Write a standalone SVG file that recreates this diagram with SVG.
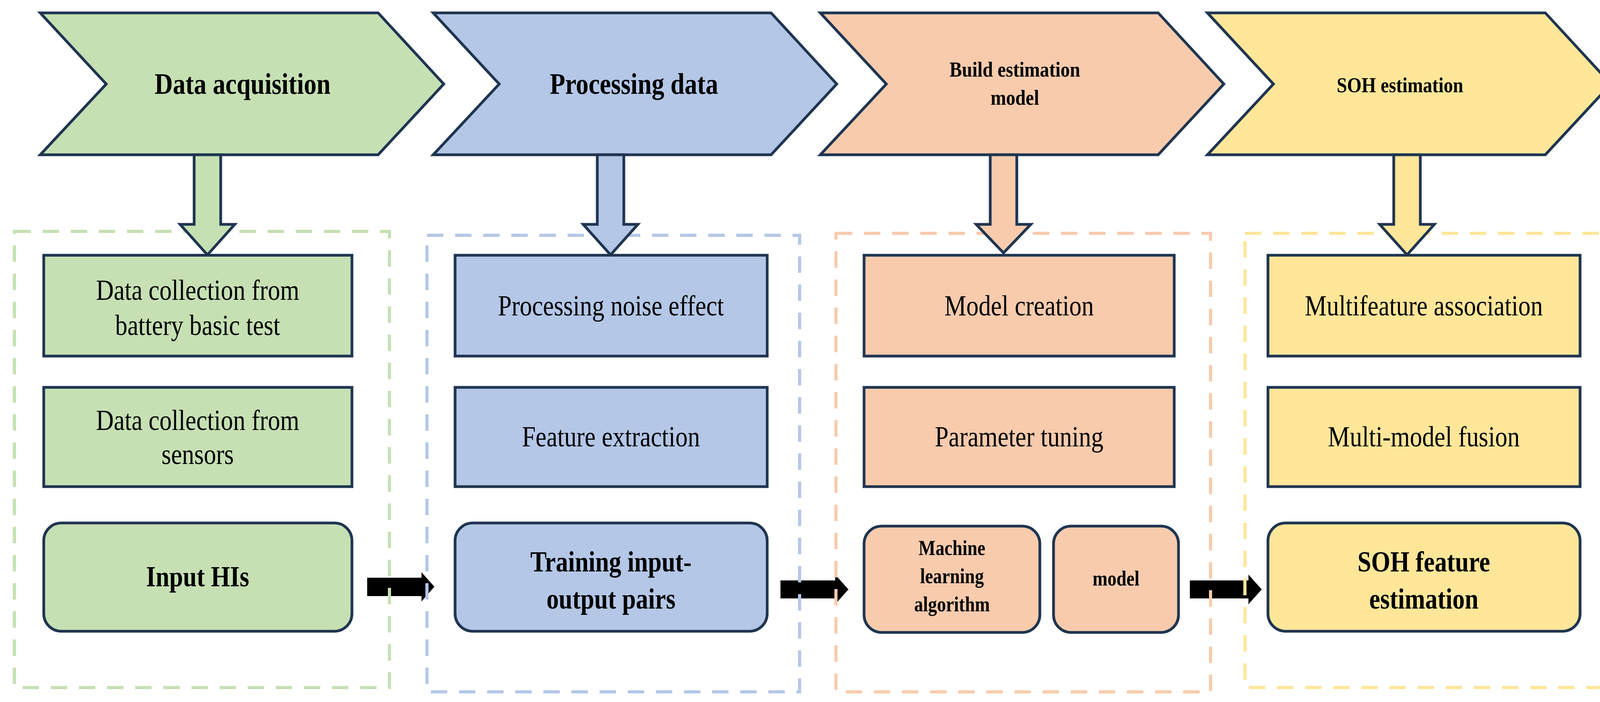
<svg xmlns="http://www.w3.org/2000/svg" width="4179" height="1796" viewBox="0 0 4179 1796">
<style>
.sh{stroke:#1f3550;stroke-width:7}
.g{fill:#c6e0b4}.b{fill:#b4c7e7}.o{fill:#f8cbad}.y{fill:#ffe699}
.d{fill:none;stroke-width:8;stroke-dasharray:42 30}
text{font-family:"Liberation Serif","Times New Roman",serif;fill:#000;text-anchor:middle}
.n{font-size:74px}.hb{font-size:76px;font-weight:bold}.sb{font-size:56px;font-weight:bold}.rb{font-size:74px;font-weight:bold}.mb{font-size:54px;font-weight:bold}
</style>
<g id="connectors">
<path d="M940 1478H1079V1464L1112 1501L1079 1539V1525H940Z" fill="#000"/>
<path d="M1998 1485H2138V1470L2172 1508L2138 1546V1531H1998Z" fill="#000"/>
<path d="M3046 1485H3196V1470L3230 1508L3196 1546V1531H3046Z" fill="#000"/>
</g>
<g id="containers">
<rect x="37" y="592" width="960" height="1167" class="d" stroke="#c6e0b4"/>
<rect x="1093" y="602" width="954" height="1168" class="d" stroke="#b4c7e7"/>
<rect x="2140" y="597" width="959" height="1173" class="d" stroke="#f8cbad"/>
<rect x="3187" y="597" width="957" height="1162" class="d" stroke="#ffe699"/>
</g>
<g id="stage1">
<path class="sh g" d="M103 33H968L1136 215L968 396H103L272 215Z"/>
<text class="hb" transform="matrix(0.85 0 0 1 621 240)">Data acquisition</text>
<path class="sh g" d="M497 396H565V574H601L531 652L461 574H497Z"/>
</g>
<g id="stage2">
<path class="sh b" d="M1109 33H1974L2142 215L1974 396H1109L1278 215Z"/>
<text class="hb" transform="matrix(0.85 0 0 1 1623 240)">Processing data</text>
<path class="sh b" d="M1529 396H1597V574H1633L1563 652L1493 574H1529Z"/>
</g>
<g id="stage3">
<path class="sh o" d="M2100 33H2965L3133 215L2965 396H2100L2269 215Z"/>
<text class="sb" transform="matrix(0.85 0 0 1 2598 196)">Build estimation</text>
<text class="sb" transform="matrix(0.85 0 0 1 2598 268)">model</text>
<path class="sh o" d="M2535 396H2603V574H2639L2569 647L2499 574H2535Z"/>
</g>
<g id="stage4">
<path class="sh y" d="M3091 33H3956L4124 215L3956 396H3091L3260 215Z"/>
<text class="sb" transform="matrix(0.85 0 0 1 3584 236)">SOH estimation</text>
<path class="sh y" d="M3568 396H3636V574H3672L3602 652L3532 574H3568Z"/>
</g>
<g id="col1">
<rect class="sh g" x="112" y="653" width="789" height="258"/>
<text class="n" transform="matrix(0.85 0 0 1 506 767)">Data collection from</text>
<text class="n" transform="matrix(0.85 0 0 1 506 857)">battery basic test</text>
<rect class="sh g" x="112" y="991" width="789" height="254"/>
<text class="n" transform="matrix(0.85 0 0 1 506 1100)">Data collection from</text>
<text class="n" transform="matrix(0.85 0 0 1 506 1187)">sensors</text>
<rect class="sh g" x="112" y="1338" width="789" height="277" rx="45"/>
<text class="rb" transform="matrix(0.85 0 0 1 506 1500)">Input HIs</text>
</g>
<g id="col2">
<rect class="sh b" x="1165" y="653" width="799" height="258"/>
<text class="n" transform="matrix(0.85 0 0 1 1564 807)">Processing noise effect</text>
<rect class="sh b" x="1165" y="991" width="799" height="254"/>
<text class="n" transform="matrix(0.85 0 0 1 1564 1142)">Feature extraction</text>
<rect class="sh b" x="1165" y="1338" width="799" height="277" rx="45"/>
<text class="rb" transform="matrix(0.85 0 0 1 1564 1462)">Training input-</text>
<text class="rb" transform="matrix(0.85 0 0 1 1564 1557)">output pairs</text>
</g>
<g id="col3">
<rect class="sh o" x="2212" y="653" width="794" height="258"/>
<text class="n" transform="matrix(0.85 0 0 1 2609 807)">Model creation</text>
<rect class="sh o" x="2212" y="991" width="794" height="254"/>
<text class="n" transform="matrix(0.85 0 0 1 2609 1142)">Parameter tuning</text>
<rect class="sh o" x="2212" y="1346" width="450" height="272" rx="45"/>
<text class="mb" transform="matrix(0.85 0 0 1 2437 1420)">Machine</text>
<text class="mb" transform="matrix(0.85 0 0 1 2437 1492)">learning</text>
<text class="mb" transform="matrix(0.85 0 0 1 2437 1564)">algorithm</text>
<rect class="sh o" x="2697" y="1346" width="320" height="272" rx="45"/>
<text class="mb" transform="matrix(0.85 0 0 1 2857 1498)">model</text>
</g>
<g id="col4">
<rect class="sh y" x="3246" y="653" width="799" height="258"/>
<text class="n" transform="matrix(0.85 0 0 1 3645 807)">Multifeature association</text>
<rect class="sh y" x="3246" y="991" width="799" height="254"/>
<text class="n" transform="matrix(0.85 0 0 1 3645 1142)">Multi-model fusion</text>
<rect class="sh y" x="3246" y="1338" width="799" height="277" rx="45"/>
<text class="rb" transform="matrix(0.85 0 0 1 3645 1462)">SOH feature</text>
<text class="rb" transform="matrix(0.85 0 0 1 3645 1557)">estimation</text>
</g>
</svg>
